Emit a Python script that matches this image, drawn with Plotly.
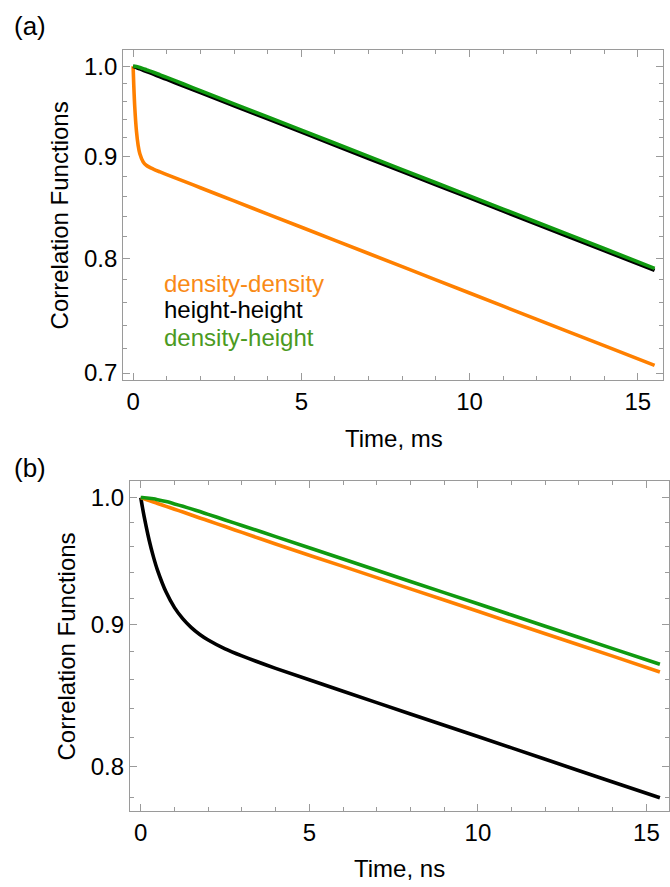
import plotly.graph_objects as go

# ---------------- data ----------------
# panel (a): time in ms
t_a = [0, 0.02, 0.05, 0.1, 0.15, 0.2, 0.3, 0.4, 0.6, 0.8, 1, 1.5, 2, 3, 4, 6, 8, 10, 12, 14, 15.5]
dens_dens_a = [1.0, 0.9778, 0.9532, 0.9271, 0.9121, 0.9033, 0.8947, 0.8910, 0.8873, 0.8844, 0.8817,
               0.8750, 0.8683, 0.8551, 0.8421, 0.8168, 0.7922, 0.7683, 0.7451, 0.7227, 0.7063]
height_height_a = [1.0, 0.9997, 0.9992, 0.9985, 0.9977, 0.9969, 0.9954, 0.9939, 0.9909, 0.9878, 0.9848,
                   0.9773, 0.9699, 0.9551, 0.9406, 0.9122, 0.8847, 0.8581, 0.8322, 0.8071, 0.7888]
dens_height_a = [1.0, 1.0, 0.9999, 0.9996, 0.9992, 0.9986, 0.9973, 0.9958, 0.9931, 0.9901, 0.9871,
                 0.9796, 0.9721, 0.9573, 0.9428, 0.9144, 0.8868, 0.8601, 0.8342, 0.8091, 0.7906]

# panel (b): time in ns
t_b = [0, 0.05, 0.1, 0.25, 0.375, 0.5, 0.75, 1, 1.25, 1.5, 1.75, 2, 2.5, 3, 4, 6, 8, 10, 12, 14, 15.4]
height_height_b = [1.0, 0.9918, 0.9844, 0.9651, 0.9521, 0.9413, 0.9247, 0.9129, 0.9044, 0.8979, 0.8928,
                   0.8887, 0.8822, 0.8771, 0.8681, 0.8518, 0.8359, 0.8204, 0.8051, 0.7901, 0.7798]
dens_dens_b = [1.0, 0.9995, 0.9990, 0.9976, 0.9964, 0.9952, 0.9928, 0.9904, 0.9881, 0.9857, 0.9833,
               0.9810, 0.9763, 0.9716, 0.9623, 0.9446, 0.9272, 0.9101, 0.8933, 0.8769, 0.8655]
dens_height_b = [1.0, 1.0, 0.9999, 0.9995, 0.9990, 0.9983, 0.9967, 0.9948, 0.9928, 0.9907, 0.9885,
                 0.9862, 0.9817, 0.9772, 0.9682, 0.9504, 0.9329, 0.9158, 0.8989, 0.8824, 0.8710]

series_names = ["density-density", "height-height", "density-height"]
ytick_vals_a = [0.7, 0.8, 0.9, 1.0]
ytick_text_a = ["0.7", "0.8", "0.9", "1.0"]
ytick_vals_b = [0.8, 0.9, 1.0]
ytick_text_b = ["0.8", "0.9", "1.0"]
y_minor_a = [0.72, 0.74, 0.76, 0.78, 0.82, 0.84, 0.86, 0.88, 0.92, 0.94, 0.96, 0.98]
y_minor_b = [0.78, 0.82, 0.84, 0.86, 0.88, 0.92, 0.94, 0.96, 0.98]
xtick_vals = [0, 5, 10, 15]
x_minor = [1, 2, 3, 4, 6, 7, 8, 9, 11, 12, 13, 14]

# ---------------- style ----------------
ORANGE = "#FF8000"
BLACK = "#000000"
GREEN = "#109A10"
FONT = "Liberation Sans, Arial, sans-serif"
FRAME = "#9A9A9A"
LW = 3.6
TICK_FS = 24
TITLE_FS = 24
W, H = 670, 887

fig = go.Figure()


def line(x, y, color, name, xa, ya):
    return go.Scatter(x=x, y=y, mode="lines", name=name, xaxis=xa, yaxis=ya,
                      line=dict(color=color, width=LW, shape="spline", smoothing=0.8))


# panel (a)
fig.add_trace(line(t_a, dens_dens_a, ORANGE, series_names[0], "x", "y"))
fig.add_trace(line(t_a, height_height_a, BLACK, series_names[1], "x", "y"))
fig.add_trace(line(t_a, dens_height_a, GREEN, series_names[2], "x", "y"))
# panel (b)
fig.add_trace(line(t_b, height_height_b, BLACK, series_names[1], "x2", "y2"))
fig.add_trace(line(t_b, dens_dens_b, ORANGE, series_names[0], "x2", "y2"))
fig.add_trace(line(t_b, dens_height_b, GREEN, series_names[2], "x2", "y2"))


def xaxis(domain, rng, anchor):
    return dict(domain=domain, range=rng, anchor=anchor,
                tickmode="array", tickvals=xtick_vals, ticktext=[str(v) for v in xtick_vals],
                ticks="inside", ticklen=7, tickwidth=1, tickcolor=FRAME,
                minor=dict(tickmode="array", tickvals=x_minor, ticks="inside", ticklen=4,
                           tickwidth=1, tickcolor=FRAME, showgrid=False),
                showline=True, linecolor=FRAME, linewidth=1, mirror="ticks",
                showgrid=False, zeroline=False,
                tickfont=dict(family=FONT, size=TICK_FS, color="#000"))


def yaxis(domain, rng, vals, text, minor_vals, anchor):
    return dict(domain=domain, range=rng, type="log", anchor=anchor,
                tickmode="array", tickvals=vals, ticktext=text,
                ticks="inside", ticklen=7, tickwidth=1, tickcolor=FRAME,
                minor=dict(tickmode="array", tickvals=minor_vals, ticks="inside", ticklen=4,
                           tickwidth=1, tickcolor=FRAME, showgrid=False),
                showline=True, linecolor=FRAME, linewidth=1, mirror="ticks",
                showgrid=False, zeroline=False,
                tickfont=dict(family=FONT, size=TICK_FS, color="#000"))


fig.update_layout(
    width=W, height=H,
    margin=dict(l=0, r=0, t=0, b=0),
    paper_bgcolor="white", plot_bgcolor="white",
    showlegend=False,
    xaxis=xaxis([123.3 / W, 664 / W], [-0.297, 15.75], "y"),
    yaxis=yaxis([1 - 383 / H, 1 - 50 / H], [-0.1586, 0.00838], ytick_vals_a, ytick_text_a, y_minor_a, "x"),
    xaxis2=xaxis([130 / W, 1.0], [-0.326, 15.67], "y2"),
    yaxis2=yaxis([1 - 816.7 / H, 1 - 484 / H], [-0.11283, 0.00608], ytick_vals_b, ytick_text_b, y_minor_b, "x2"),
)


def ann(text, xpx, ypx, size, color="#000", xanchor="center", angle=0):
    fig.add_annotation(text=text, xref="paper", yref="paper", x=xpx / W, y=1 - ypx / H,
                       xanchor=xanchor, yanchor="middle", showarrow=False, textangle=angle,
                       font=dict(family=FONT, size=size, color=color))


# axis titles
ann("Time, ms", 395, 441, TITLE_FS)
ann("Time, ns", 400, 874, TITLE_FS)
ann("Correlation Functions", 60, 217, TITLE_FS, angle=-90)
ann("Correlation Functions", 67, 651, TITLE_FS, angle=-90)

# legend text inside panel (a)
legend_rows = [(series_names[0], "#F98A16", 285), (series_names[1], "#000000", 312), (series_names[2], "#4B9A22", 340)]
for txt, col, ypx in legend_rows:
    ann(txt, 162, ypx, 24, color=col, xanchor="left")

# panel labels
ann("(a)", 12, 26, 26, xanchor="left")
ann("(b)", 12, 471, 26, xanchor="left")

fig.write_html("out.html")
